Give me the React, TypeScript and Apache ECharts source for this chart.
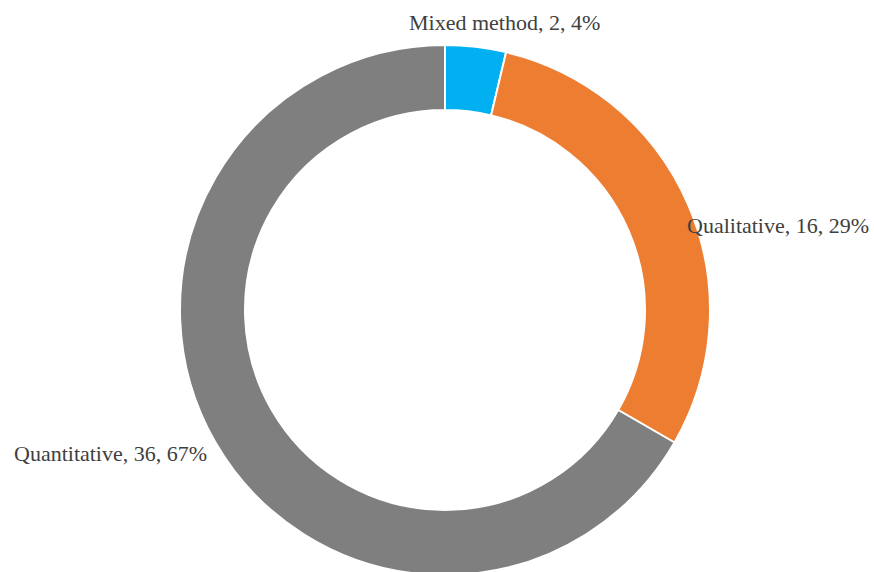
import React, { useEffect, useRef } from "react";
import * as echarts from "echarts";

const categories = ["Mixed method", "Qualitative", "Quantitative"];
const counts = [2, 16, 36];
const colors = ["#00B0F0", "#ED7D31", "#7F7F7F"];
const labelAnchors = [
  [409, 22],
  [687, 225],
  [14, 453],
];

export default function App() {
  const ref = useRef<HTMLDivElement>(null);
  useEffect(() => {
    document.body.style.margin = "0";
    const chart = echarts.init(ref.current!, null, { renderer: "svg" });
    chart.setOption({
      animation: false,
      backgroundColor: "#ffffff",
      series: [
        {
          type: "pie",
          center: [445, 310],
          radius: [200, 265],
          startAngle: 90,
          clockwise: true,
          percentPrecision: 0,
          avoidLabelOverlap: false,
          itemStyle: { borderColor: "#ffffff", borderWidth: 2 },
          label: {
            show: true,
            formatter: "{b}, {c}, {d}%",
            fontFamily: "Liberation Serif",
            fontSize: 22,
            color: "#404040",
          },
          labelLine: { show: false },
          labelLayout: (p: any) => ({
            x: labelAnchors[p.dataIndex][0],
            y: labelAnchors[p.dataIndex][1],
            align: "left",
            verticalAlign: "middle",
          }),
          emphasis: { disabled: true },
          data: categories.map((c, i) => ({
            name: c,
            value: counts[i],
            itemStyle: { color: colors[i] },
          })),
        },
      ],
    });
    return () => chart.dispose();
  }, []);
  return <div ref={ref} style={{ width: 874, height: 572 }} />;
}
